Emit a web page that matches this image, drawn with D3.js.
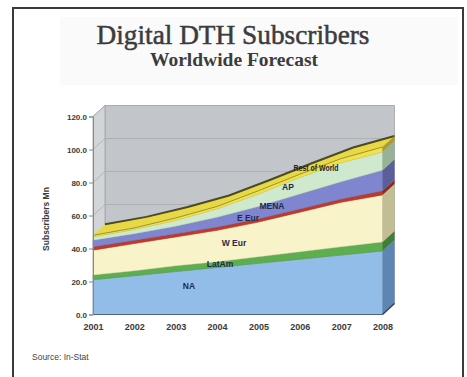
<!DOCTYPE html>
<html><head><meta charset="utf-8">
<script src="https://cdn.jsdelivr.net/npm/d3@7"></script>
<style>html,body{margin:0;padding:0;background:#fff;}svg{display:block;}</style>
</head><body>
<svg id="c" width="467" height="377"></svg>
<script>
const years = [2001, 2002, 2003, 2004, 2005, 2006, 2007, 2008];
const seriesNames = ["NA", "LatAm", "W Eur", "E Eur", "MENA", "AP", "Rest of World"];
const NA    = [21, 23.5, 26, 28.5, 31, 33.5, 36, 38.5];
const LatAm = [3, 3, 3.5, 3.5, 4, 4.5, 5, 5.5];
const WEur  = [15, 16.5, 17.5, 19, 21, 24, 27, 28.5];
const EEur  = [2, 2, 2, 2, 2, 2, 2, 2.5];
const MENA  = [4, 4, 4.5, 6, 7.5, 9, 10.5, 12.5];
const AP    = [2, 2.5, 3.5, 5, 7.5, 10, 11.5, 11];
const Other = [1, 1, 1.5, 1.5, 2, 2, 2.5, 3];
const yTicks = [0, 20, 40, 60, 80, 100, 120];

const fills = ["#93bde9", "#5cae4e", "#f8f3c8", "#c0392b", "#7f86cf", "#cfe9cf", "#f2e24a"];
const sides = ["#5f86b3", "#3f7f35", "#c2bd92", "#8a2a20", "#5a5f9c", "#98b298", "#a89c34"];
const labelPos = [[189, 289], [220, 267], [234, 246], [248, 221], [272, 209], [288, 190], [316, 171]];

const seriesList = [NA, LatAm, WEur, EEur, MENA, AP, Other];
const table = years.map((yr, i) => {
  const o = {year: yr};
  seriesNames.forEach((n, k) => o[n] = seriesList[k][i]);
  return o;
});
const stacked = d3.stack().keys(seriesNames)(table);

const svg = d3.select("#c");
const x = d3.scaleLinear().domain([2001, 2008]).range([93, 382.5]);
const y = d3.scaleLinear().domain([0, 120]).range([314.5, 116.5]);
const dx = 12, dy = -11;

// frame
svg.append("rect").attr("x", 13).attr("y", 8).attr("width", 450).attr("height", 380)
  .attr("fill", "#fff").attr("stroke", "#3a3a3a").attr("stroke-width", 2);
svg.append("rect").attr("x", 60).attr("y", 17).attr("width", 398).attr("height", 68)
  .attr("fill", "#fafafa");

// titles
svg.append("text").attr("x", 233).attr("y", 44).attr("text-anchor", "middle")
  .attr("font-family", "Liberation Serif, Times New Roman, serif").attr("font-size", 27)
  .attr("fill", "#3c3c3c").attr("stroke", "#3c3c3c").attr("stroke-width", 0.5)
  .attr("textLength", 273).attr("lengthAdjust", "spacingAndGlyphs")
  .text("Digital DTH Subscribers");
svg.append("text").attr("x", 234).attr("y", 66).attr("text-anchor", "middle")
  .attr("font-family", "Liberation Serif, Times New Roman, serif").attr("font-size", 18)
  .attr("font-weight", "bold").attr("fill", "#3c3c3c").attr("textLength", 168).attr("lengthAdjust", "spacingAndGlyphs")
  .text("Worldwide Forecast");

const x0 = x(2001), x1 = x(2008), yb = y(0), yt = y(120);
// back wall
svg.append("polygon").attr("points", [[x0+dx, yt+dy], [x1+dx, yt+dy], [x1+dx, yb+dy], [x0+dx, yb+dy]].join(" "))
  .attr("fill", "#c2c5c9").attr("stroke", "#9ea2a6").attr("stroke-width", 0.8);
// left wall
svg.append("polygon").attr("points", [[x0, yt], [x0+dx, yt+dy], [x0+dx, yb+dy], [x0, yb]].join(" "))
  .attr("fill", "#d2d5d8").attr("stroke", "#9ea2a6").attr("stroke-width", 0.8);
// gridlines
yTicks.forEach(v => {
  svg.append("line").attr("x1", x0+dx).attr("x2", x1+dx).attr("y1", y(v)+dy).attr("y2", y(v)+dy)
    .attr("stroke", "#a7abb0").attr("stroke-width", 0.8);
  svg.append("line").attr("x1", x0).attr("x2", x0+dx).attr("y1", y(v)).attr("y2", y(v)+dy)
    .attr("stroke", "#a7abb0").attr("stroke-width", 0.8);
});
// floor
svg.append("polygon").attr("points", [[x0, yb], [x1, yb], [x1+dx, yb+dy], [x0+dx, yb+dy]].join(" "))
  .attr("fill", "#9da2a8");

// front faces
const area = d3.area().x(d => x(d.data.year)).y0(d => y(d[0])).y1(d => y(d[1]));
stacked.forEach((s, k) => {
  svg.append("path").attr("d", area(s)).attr("fill", fills[k])
    .attr("stroke", d3.color(fills[k]).darker(0.4)).attr("stroke-width", 0.5);
});
// top surface of the top layer
const topLayer = stacked[stacked.length - 1];
const topPts = topLayer.map(d => [x(d.data.year), y(d[1])]);
const backPts = topPts.map(p => [p[0]+dx, p[1]+dy]);
const topPoly = topPts.concat(backPts.slice().reverse());
svg.append("polygon").attr("points", topPoly.join(" ")).attr("fill", "#e8d846");
svg.append("path").attr("d", d3.line()(topPts)).attr("fill", "none").attr("stroke", "#8c8430").attr("stroke-width", 0.8);
svg.append("path").attr("d", d3.line()(backPts)).attr("fill", "none").attr("stroke", "#4b4a25").attr("stroke-width", 2);
// right side faces
stacked.forEach((s, k) => {
  const d = s[s.length - 1];
  const xf = x(d.data.year);
  svg.append("polygon").attr("points", [[xf, y(d[0])], [xf, y(d[1])], [xf+dx, y(d[1])+dy], [xf+dx, y(d[0])+dy]].join(" "))
    .attr("fill", sides[k]);
});
// floor front edge
svg.append("line").attr("x1", x0).attr("x2", x1).attr("y1", yb).attr("y2", yb)
  .attr("stroke", "#4d6580").attr("stroke-width", 1.2);
svg.append("line").attr("x1", x1).attr("x2", x1+dx).attr("y1", yb).attr("y2", yb+dy)
  .attr("stroke", "#2e4460").attr("stroke-width", 1.5);

// y axis
const yAxis = d3.axisLeft(y).tickValues(yTicks).tickSize(4).tickPadding(2).tickFormat(d3.format(".1f"));
const ya = svg.append("g").attr("transform", `translate(${x0},0)`).call(yAxis);
ya.select(".domain").attr("stroke", "#888");
ya.selectAll(".tick line").attr("stroke", "#888");
ya.selectAll("text").attr("font-family", "Liberation Sans, Arial, sans-serif").attr("font-size", 8)
  .attr("font-weight", "bold").attr("fill", "#3a3a3a");

// x axis
const xAxis = d3.axisBottom(x).tickValues(years).tickSize(0).tickPadding(9).tickFormat(d3.format("d"));
const xa = svg.append("g").attr("transform", `translate(0,${yb})`).call(xAxis);
xa.select(".domain").remove();
xa.selectAll("text").attr("font-family", "Liberation Sans, Arial, sans-serif").attr("font-size", 9)
  .attr("font-weight", "bold").attr("fill", "#3a3a3a");

// y title
svg.append("text").attr("transform", "translate(49,219) rotate(-90)").attr("text-anchor", "middle")
  .attr("font-family", "Liberation Sans, Arial, sans-serif").attr("font-size", 8.5).attr("font-weight", "bold")
  .attr("fill", "#3a3a3a").text("Subscribers Mn");

// series labels
seriesNames.forEach((n, k) => {
  const t = svg.append("text").attr("x", labelPos[k][0]).attr("y", labelPos[k][1]).attr("text-anchor", "middle")
    .attr("font-family", "Liberation Sans, Arial, sans-serif").attr("font-size", 8.5).attr("font-weight", "bold")
    .attr("fill", "#1f2c4c").text(n);
  if (k === 6) t.attr("textLength", 45).attr("lengthAdjust", "spacingAndGlyphs").attr("fill", "#222");
});

// source
svg.append("text").attr("x", 32).attr("y", 360).attr("font-family", "Liberation Sans, Arial, sans-serif")
  .attr("font-size", 8.5).attr("fill", "#444").text("Source: In-Stat");
</script>
</body></html>
